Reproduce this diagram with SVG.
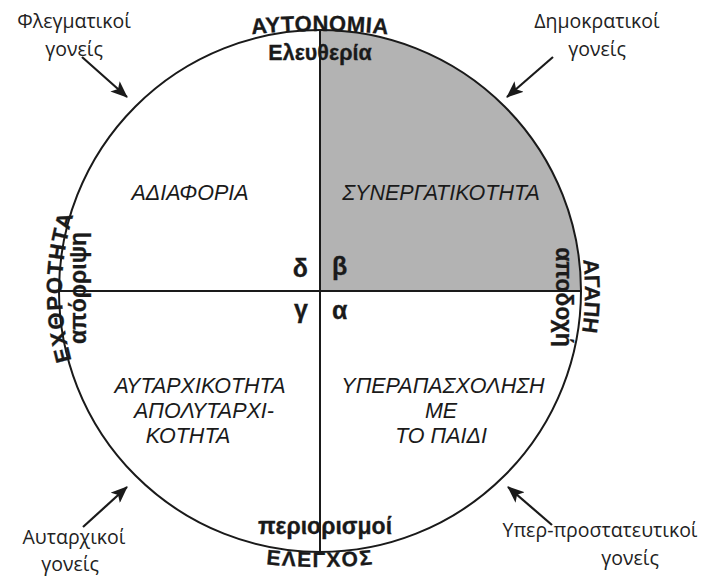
<svg xmlns="http://www.w3.org/2000/svg" xmlns:xlink="http://www.w3.org/1999/xlink" width="710" height="578" viewBox="0 0 710 578">
<style>
.b{font-family:"Liberation Sans",Arial,sans-serif;font-weight:bold;fill:#1a1a1a;stroke:#1a1a1a;stroke-width:0.3}
.i{font-family:"Liberation Sans",Arial,sans-serif;font-style:italic;font-size:21.5px;fill:#1a1a1a;text-anchor:middle}
.o{font-family:"Open Sans","Noto Sans",sans-serif;font-size:19.5px;fill:#222;text-anchor:middle}
.ln{stroke:#1a1a1a;stroke-width:2;fill:none}
.ar{stroke:#1a1a1a;stroke-width:2.2;fill:none}
</style>
<defs>
<marker id="ah" markerUnits="userSpaceOnUse" markerWidth="18" markerHeight="14" refX="16" refY="7" orient="auto">
<path d="M0,0 L17,7 L0,14 L4,7 Z" fill="#1a1a1a"/>
</marker>
<path id="pTop" d="M120,60.2 A700,700 0 0 1 520,60.2"/>
<path id="pBot" d="M120,525.3 A500,500 0 0 0 520,525.3"/>
<path id="pLeft" d="M320,549 A258,258 0 0 1 320,33"/>
<path id="pRight" d="M320,26 A265,265 0 0 1 320,556"/>
</defs>
<rect width="710" height="578" fill="#fff"/>
<g id="circle">
<path d="M320,291 L320,30 A261,261 0 0 1 581,291 Z" fill="#b3b3b3"/>
<circle cx="320" cy="291" r="261" class="ln"/>
</g>
<g id="connectors">
<line x1="320" y1="30" x2="320" y2="552" class="ln"/>
<line x1="59" y1="291" x2="581" y2="291" class="ln"/>
<line x1="82" y1="57" x2="127" y2="97" class="ar" marker-end="url(#ah)"/>
<line x1="553" y1="57" x2="507" y2="97" class="ar" marker-end="url(#ah)"/>
<line x1="83" y1="527" x2="127" y2="487" class="ar" marker-end="url(#ah)"/>
<line x1="552" y1="525" x2="508" y2="487" class="ar" marker-end="url(#ah)"/>
</g>
<g id="axis-top">
<text class="b" font-size="22" letter-spacing="0.5"><textPath xlink:href="#pTop" href="#pTop" startOffset="50%" text-anchor="middle">ΑΥΤΟΝΟΜΙΑ</textPath></text>
<text class="b" x="320" y="60" font-size="21.5" text-anchor="middle">Ελευθερία</text>
</g>
<g id="axis-bottom">
<text class="b" font-size="21" letter-spacing="1.5"><textPath xlink:href="#pBot" href="#pBot" startOffset="50%" text-anchor="middle">ΕΛΕΓΧΟΣ</textPath></text>
<text class="b" x="325" y="534" font-size="23" text-anchor="middle">περιορισμοί</text>
</g>
<g id="axis-left">
<text class="b" font-size="22" letter-spacing="1.5"><textPath xlink:href="#pLeft" href="#pLeft" startOffset="50.5%" text-anchor="middle">ΕΧΘΡΟΤΗΤΑ</textPath></text>
<text class="b" font-size="23" text-anchor="middle" transform="translate(86,288) rotate(-90)">απόρριψη</text>
</g>
<g id="axis-right">
<text class="b" font-size="21.5"><textPath xlink:href="#pRight" href="#pRight" startOffset="50.6%" text-anchor="middle">ΑΓΑΠΗ</textPath></text>
<text class="b" font-size="23" text-anchor="middle" transform="translate(556,297) rotate(90)">αποδοχή</text>
</g>
<g id="quadrant-letters">
<text class="b" x="308" y="277" font-size="25" text-anchor="end">δ</text>
<text class="b" x="332" y="275" font-size="25">β</text>
<text class="b" x="308" y="318" font-size="25" text-anchor="end">γ</text>
<text class="b" x="332" y="319" font-size="25">α</text>
</g>
<g id="q-adiaforia"><text class="i" x="190" y="200">ΑΔΙΑΦΟΡΙΑ</text></g>
<g id="q-synergatikotita"><text class="i" x="441" y="200">ΣΥΝΕΡΓΑΤΙΚΟΤΗΤΑ</text></g>
<g id="q-autarxikotita">
<text class="i" x="200" y="393">ΑΥΤΑΡΧΙΚΟΤΗΤΑ</text>
<text class="i" x="204" y="418">ΑΠΟΛΥΤΑΡΧΙ-</text>
<text class="i" x="188" y="443">ΚΟΤΗΤΑ</text>
</g>
<g id="q-yperapasxolisi">
<text class="i" x="443" y="393">ΥΠΕΡΑΠΑΣΧΟΛΗΣΗ</text>
<text class="i" x="441" y="418">ΜΕ</text>
<text class="i" x="441" y="443">ΤΟ ΠΑΙΔΙ</text>
</g>
<g id="lbl-flegmatikoi">
<text class="o" x="74" y="28">Φλεγματικοί</text>
<text class="o" x="74" y="56">γονείς</text>
</g>
<g id="lbl-dimokratikoi">
<text class="o" x="597" y="28">Δημοκρατικοί</text>
<text class="o" x="597" y="56">γονείς</text>
</g>
<g id="lbl-autarxikoi">
<text class="o" x="74" y="544">Αυταρχικοί</text>
<text class="o" x="70" y="571">γονείς</text>
</g>
<g id="lbl-yperprostateftikoi">
<text class="o" x="600" y="537">Υπερ-προστατευτικοί</text>
<text class="o" x="630" y="565">γονείς</text>
</g>
</svg>
